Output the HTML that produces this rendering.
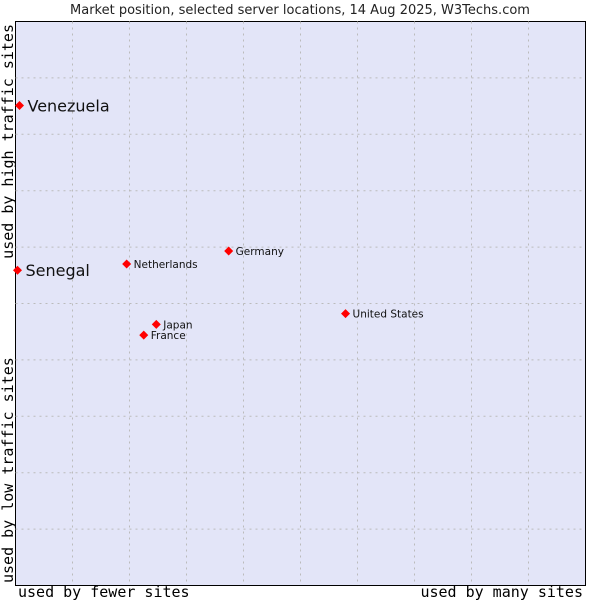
<!DOCTYPE html>
<html><head><meta charset="utf-8"><style>body{margin:0;background:#fff}svg{display:block}</style></head>
<body>
<svg id="chart" width="600" height="600" xmlns="http://www.w3.org/2000/svg">
<rect x="0" y="0" width="600" height="600" fill="#fff"/>
<text x="300" y="14" text-anchor="middle" font-family="DejaVu Sans, sans-serif" font-size="13" fill="#222">Market position, selected server locations, 14 Aug 2025, W3Techs.com</text>
<rect x="15.5" y="21.5" width="570" height="564" fill="#e3e5f8" stroke="#000" stroke-width="1"/>
<g id="grid"></g>
<g id="points"></g>
<text x="18" y="597" font-family="DejaVu Sans Mono, monospace" font-size="15" fill="#000">used by fewer sites</text>
<text x="583" y="597" text-anchor="end" font-family="DejaVu Sans Mono, monospace" font-size="15" fill="#000">used by many sites</text>
<text transform="translate(13,583) rotate(-90)" font-family="DejaVu Sans Mono, monospace" font-size="15" fill="#000">used by low traffic sites</text>
<text transform="translate(13,24) rotate(-90)" text-anchor="end" font-family="DejaVu Sans Mono, monospace" font-size="15" fill="#000">used by high traffic sites</text>
</svg>
<script>
const names = ["Venezuela","Senegal","Netherlands","Germany","United States","Japan","France"];
const xValues = [0.7,0.35,19.5,37.4,57.9,24.7,22.5];
const yValues = [85.1,55.9,57.0,59.3,48.2,46.3,44.4];
const bigLabel = [true,true,false,false,false,false,false];
const NS="http://www.w3.org/2000/svg";
const L=15.5,R=585.5,T=21.5,B=585.5;
const sx=v=>L+(R-L)*v/100, sy=v=>B-(B-T)*v/100;
const grid=document.getElementById('grid');
for(let i=1;i<10;i++){
  const v=document.createElementNS(NS,'line');
  
  
  v.setAttribute('x1',sx(i*10));v.setAttribute('x2',sx(i*10));v.setAttribute('y1',T);v.setAttribute('y2',B);
  v.setAttribute('stroke','#bbb');v.setAttribute('stroke-dasharray','2,4');grid.appendChild(v);
  const h=document.createElementNS(NS,'line');
  
  
  h.setAttribute('y1',sy(i*10));h.setAttribute('y2',sy(i*10));h.setAttribute('x1',L);h.setAttribute('x2',R);
  h.setAttribute('stroke','#bbb');h.setAttribute('stroke-dasharray','2,4');grid.appendChild(h);
}
const pts=document.getElementById('points');
names.forEach((n,i)=>{
  const x=sx(xValues[i]),y=sy(yValues[i]);
  const d=document.createElementNS(NS,'path');
  
  
  d.setAttribute('d',`M${x} ${y-4.5}L${x+4.5} ${y}L${x} ${y+4.5}L${x-4.5} ${y}Z`);
  d.setAttribute('fill','#f00');pts.appendChild(d);
  const t=document.createElementNS(NS,'text');
  
  
  t.setAttribute('x',x+(bigLabel[i]?8:7));t.setAttribute('y',y+(bigLabel[i]?6:4));
  t.setAttribute('font-family','DejaVu Sans, sans-serif');
  t.setAttribute('font-size',bigLabel[i]?16:10.5);t.setAttribute('fill','#111');
  t.textContent=n;pts.appendChild(t);
});
</script>
</body></html>
